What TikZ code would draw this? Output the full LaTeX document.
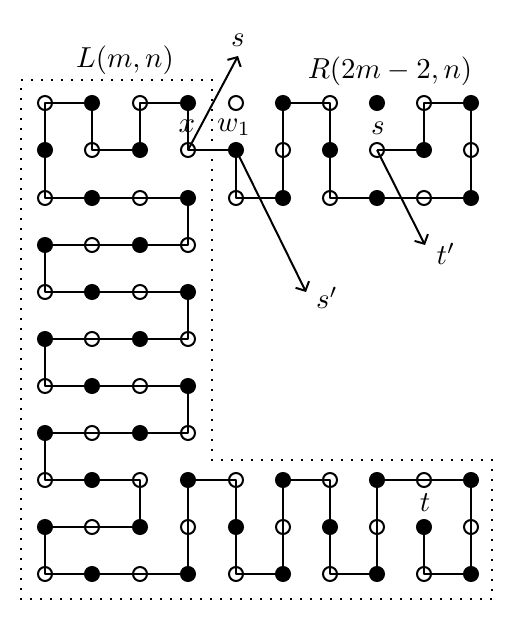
\documentclass[tikz,border=0pt]{standalone}
\usetikzlibrary{arrows.meta}
\newcommand\mylab[1]{\scalebox{2.9}{$#1$}}
\begin{document}
\begin{tikzpicture}[x=1bp,y=-1bp,
 dot/.style={circle,inner sep=0pt,minimum size=14bp,line width=2bp,draw=black},
 dot0/.style={dot,fill=none},
 dot1/.style={dot,fill=black},
 edge/.style={line width=2bp,line join=round},
 arr/.style={line width=2bp,-{Straight Barb[length=7bp,width=15bp]}},
 lbl/.style={inner sep=0pt},
 frame/.style={line width=2bp,dash pattern=on 2bp off 8bp}]
\useasboundingbox (0,0) rectangle (515,621);
\foreach \i/\xx in {0/45,1/92,2/140,3/188}{\foreach \j/\yy in {0/103,1/150,2/198,3/245,4/292,5/339,6/386,7/433,8/480,9/527,10/574}{
  \pgfmathtruncatemacro\p{mod(\i+\j,2)}
  \node[dot\p] (n-\i-\j) at (\xx,\yy) {};
}}
\foreach \i/\xx in {4/236,5/283,6/330,7/377,8/424,9/471}{\foreach \j/\yy in {0/103,1/150,2/198,8/480,9/527,10/574}{
  \pgfmathtruncatemacro\p{mod(\i+\j,2)}
  \node[dot\p] (n-\i-\j) at (\xx,\yy) {};
}}
\draw[edge] (n-8-9.center) -- (n-8-10.center) -- (n-9-10.center) -- (n-9-9.center) -- (n-9-8.center) -- (n-8-8.center) -- (n-7-8.center) -- (n-7-9.center) -- (n-7-10.center) -- (n-6-10.center) -- (n-6-9.center) -- (n-6-8.center) -- (n-5-8.center) -- (n-5-9.center) -- (n-5-10.center) -- (n-4-10.center) -- (n-4-9.center) -- (n-4-8.center) -- (n-3-8.center) -- (n-3-9.center) -- (n-3-10.center) -- (n-2-10.center) -- (n-1-10.center) -- (n-0-10.center) -- (n-0-9.center) -- (n-1-9.center) -- (n-2-9.center) -- (n-2-8.center) -- (n-1-8.center) -- (n-0-8.center) -- (n-0-7.center) -- (n-1-7.center) -- (n-2-7.center) -- (n-3-7.center) -- (n-3-6.center) -- (n-2-6.center) -- (n-1-6.center) -- (n-0-6.center) -- (n-0-5.center) -- (n-1-5.center) -- (n-2-5.center) -- (n-3-5.center) -- (n-3-4.center) -- (n-2-4.center) -- (n-1-4.center) -- (n-0-4.center) -- (n-0-3.center) -- (n-1-3.center) -- (n-2-3.center) -- (n-3-3.center) -- (n-3-2.center) -- (n-2-2.center) -- (n-1-2.center) -- (n-0-2.center) -- (n-0-1.center) -- (n-0-0.center) -- (n-1-0.center) -- (n-1-1.center) -- (n-2-1.center) -- (n-2-0.center) -- (n-3-0.center) -- (n-3-1.center) -- (n-4-1.center) -- (n-4-2.center) -- (n-5-2.center) -- (n-5-1.center) -- (n-5-0.center) -- (n-6-0.center) -- (n-6-1.center) -- (n-6-2.center) -- (n-7-2.center) -- (n-8-2.center) -- (n-9-2.center) -- (n-9-1.center) -- (n-9-0.center) -- (n-8-0.center) -- (n-8-1.center) -- (n-7-1.center);
\draw[frame] (21,80) -- (212,80) -- (212,460) -- (492,460) -- (492,599) -- (21,599) -- cycle;
\coordinate (sT) at (238,56);
\coordinate (spT) at (306,292);
\coordinate (tpT) at (425,245);
\draw[arr] (n-3-1.center) -- (sT);
\draw[arr] (n-4-1.center) -- (spT);
\draw[arr] (n-7-1.center) -- (tpT);
\node[lbl] (Lm) at (125,60) {\mylab{L(m,n)}};
\node[lbl] (Rm) at (390,71) {\mylab{R(2m-2,n)}};
\node[lbl] (ls) at (238,40) {\mylab{s}};
\node[lbl] (lx) at (187,126) {\mylab{x}};
\node[lbl] (lw) at (234,127) {\mylab{w_1}};
\node[lbl] (ls2) at (378,128) {\mylab{s}};
\node[lbl] (lt) at (425,503) {\mylab{t}};
\node[lbl] (lsp) at (327,298) {\mylab{s'}};
\node[lbl] (ltp) at (446,254) {\mylab{t'}};
\end{tikzpicture}
\end{document}
